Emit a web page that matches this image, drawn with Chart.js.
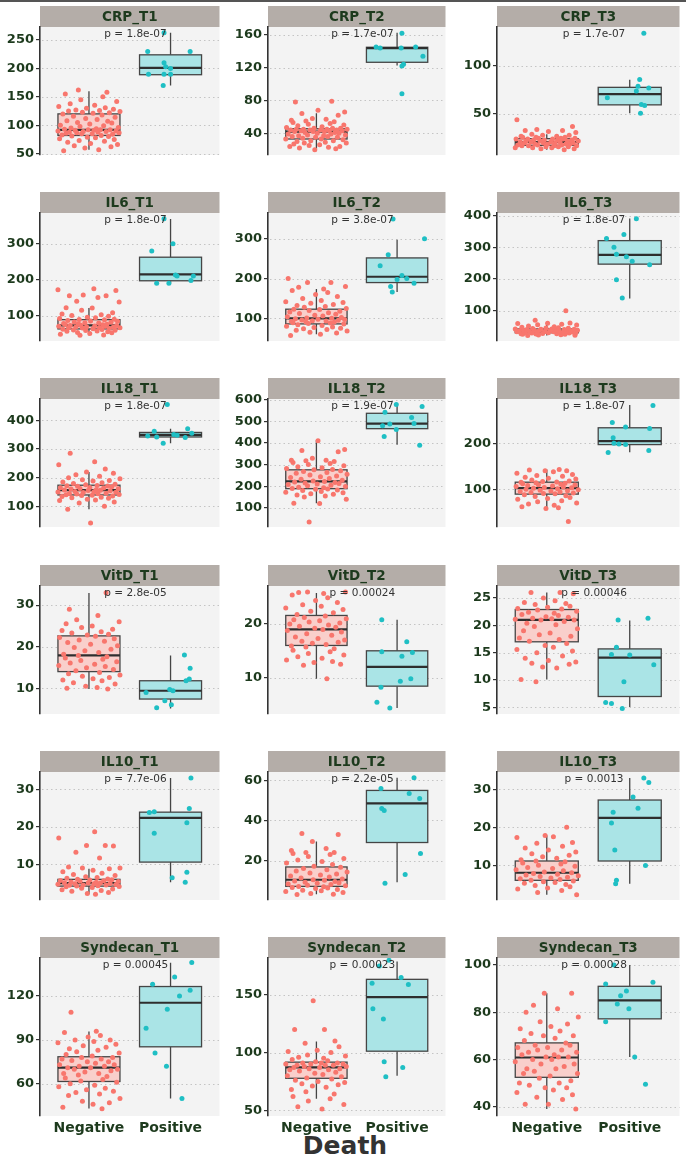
<!DOCTYPE html>
<html>
<head>
<meta charset="utf-8">
<script src="https://cdn.jsdelivr.net/npm/chart.js@4.4.0/dist/chart.umd.min.js"></script>
<style>
  body { margin: 0; background: #fff; width: 686px; height: 1155px; position: relative; overflow: hidden; }
  #topline { position: absolute; left: 0; top: 0; width: 686px; height: 2px; background: #555; }
  canvas { position: absolute; }
  #death { position: absolute; left: 0; width: 690px; top: 1131px; line-height: 25px; text-align: center;
           font: bold 25px "DejaVu Sans"; color: #333; }
</style>
</head>
<body>
<div id="topline"></div>
<div id="death">Death</div>
<script>
// ---- data ----
const categories = ['Negative', 'Positive']
const panelNames = ['CRP_T1', 'CRP_T2', 'CRP_T3', 'IL6_T1', 'IL6_T2', 'IL6_T3',
  'IL18_T1', 'IL18_T2', 'IL18_T3', 'VitD_T1', 'VitD_T2', 'VitD_T3',
  'IL10_T1', 'IL10_T2', 'IL10_T3', 'Syndecan_T1', 'Syndecan_T2', 'Syndecan_T3']
const pLabels = ['p = 1.8e-07', 'p = 1.7e-07', 'p = 1.7e-07', 'p = 1.8e-07', 'p = 3.8e-07', 'p = 1.8e-07',
  'p = 1.8e-07', 'p = 1.9e-07', 'p = 1.8e-07', 'p = 2.8e-05', 'p = 0.00024', 'p = 0.00046',
  'p = 7.7e-06', 'p = 2.2e-05', 'p = 0.0013', 'p = 0.00045', 'p = 0.00023', 'p = 0.00028']
const yMin = [47.6, 13.5, 7.5, 29, 43, 5, 28, 12, 18, 3.8, 3.2, 3.8, 0.5, 0.3, 0.8, 38, 45, 36]
const yMax = [273, 169.5, 140.5, 386, 365, 408, 474, 603, 296, 34.6, 27.1, 27.2, 34.6, 64.2, 34.6, 146, 182, 103]
const yTicks = [[50, 100, 150, 200, 250], [40, 80, 120, 160], [50, 100], [100, 200, 300], [100, 200, 300],
  [100, 200, 300, 400], [100, 200, 300, 400], [100, 200, 300, 400, 500, 600], [100, 200],
  [10, 20, 30], [10, 20], [5, 10, 15, 20, 25], [10, 20, 30], [20, 40, 60], [10, 20, 30],
  [60, 90, 120], [50, 100, 150], [40, 60, 80, 100]]

// box stats: [lower whisker, q1, median, q3, upper whisker]
const negBox = [[57, 82, 92, 120, 160], [21, 33, 42, 45.5, 64.5], [13, 17.5, 21, 24.5, 29],
  [45, 62.7, 72.7, 88.6, 121], [60, 86, 100, 123, 174], [22, 31, 37, 43, 61],
  [90, 139.6, 156.6, 173.6, 220], [122, 189, 222.6, 276, 412], [58, 89.4, 102.3, 115.3, 143],
  [9.8, 14, 17.9, 22.6, 32.9], [9.8, 16, 19, 21.6, 25.8], [10.1, 17, 21, 22.9, 26],
  [2, 4.2, 5, 6, 8.8], [3.2, 7.1, 10.4, 16.8, 29.5], [2.2, 6, 8, 11.1, 17.8],
  [43.1, 61.6, 71.1, 78.5, 95.7], [60, 77.7, 87.2, 91.7, 109.5], [39, 52.4, 60.8, 67, 88]]
const posBox = [[170, 189, 201, 224, 263], [122.6, 126.5, 143.8, 144.8, 162.4], [51, 59.6, 70.8, 77.8, 85.7],
  [190, 197, 215, 262.7, 369.6], [166, 190, 204.6, 252, 298], [139, 247, 276, 321, 391],
  [320, 341.7, 349, 357.5, 370], [392, 466, 489, 537, 575], [180.6, 197, 204.6, 233.5, 282.9],
  [5.1, 7.4, 9.4, 11.8, 17.9], [4.3, 8.4, 12, 15, 20.8], [5.1, 7, 14.1, 15.7, 20.9],
  [5.2, 10.6, 22.4, 23.9, 33], [9.2, 29, 48.5, 55, 61.3], [5.1, 11.1, 22.5, 27.2, 33],
  [50, 85.3, 115.4, 126.5, 142.7], [79.8, 101.2, 148, 163.5, 179], [61, 77.2, 85, 91, 100]]

// horizontal jitter offsets for the Negative points
const negJitter = [-0.31, 0.12, -0.05, 0.27, -0.18, 0.35, 0.02, -0.26, 0.19, -0.12, 0.31, -0.36, 0.08, -0.02,
  0.24, -0.21, 0.15, -0.33, 0.29, -0.09, 0.04, -0.28, 0.37, -0.15, 0.11, -0.24, 0.21, -0.07, 0.33, -0.38,
  0.06, -0.17, 0.26, -0.01, 0.14, -0.30, 0.09, -0.22, 0.36, -0.11, 0.18, -0.35, 0.01, 0.28, -0.14, 0.23,
  -0.27, 0.10, -0.04, 0.32, -0.19, 0.16, -0.32, 0.05, 0.25, -0.08, 0.38, -0.25, 0.13, -0.16, 0.30, -0.03,
  0.20, -0.37, 0.07, -0.23, 0.34, -0.10, 0.17, -0.29, 0.22, -0.13]

const CRP_T1_neg = [55, 57, 60, 62, 64, 66, 68, 70, 72, 73, 75, 76, 78, 79, 80, 81, 82, 83, 84, 85, 85, 86, 87, 87, 88, 88, 89, 89, 90, 90, 91, 91, 92, 92, 92,
  93, 94, 95, 96, 98, 99, 100, 102, 104, 105, 107, 108, 110, 112, 114, 116, 118, 120, 121, 122, 123, 124, 125, 126, 127, 128, 130, 131, 133, 135, 138, 142, 145, 150, 155, 158, 162]
const CRP_T1_pos = [263, 230, 230, 210, 203, 200, 190, 190, 190, 170]
const CRP_T1_jit = [-0.08, -0.28, 0.24, -0.08, -0.06, 0, -0.27, -0.08, 0, -0.09]

const CRP_T2_neg = [20, 21, 22, 23, 24, 24, 25, 26, 27, 28, 28, 29, 30, 31, 31, 32, 33, 33, 34, 35, 35, 36, 36, 37, 37, 38, 38, 39, 39, 40, 40, 41, 41, 42, 42,
  42, 43, 43, 43, 44, 44, 44, 44, 45, 45, 45, 45, 46, 46, 46, 47, 48, 49, 50, 51, 52, 53, 54, 55, 56, 57, 58, 62, 64, 66, 68, 78, 79]
const CRP_T2_pos = [162, 145, 144, 145, 144, 134, 124, 122, 88]
const CRP_T2_jit = [0.06, -0.26, -0.21, 0.23, 0.05, 0.32, 0.08, 0.06, 0.06]

const CRP_T3_neg = [13, 14, 14, 15, 15, 15, 16, 16, 16, 17, 17, 17, 17, 18, 18, 18, 19, 19, 19, 19, 20, 20, 20, 20, 21, 21, 21,
  21, 22, 22, 22, 22, 23, 23, 23, 23, 24, 24, 24, 24, 25, 25, 25, 26, 26, 26, 27, 27, 28, 28, 29, 31, 32, 33, 33, 34, 37, 44]
const CRP_T3_pos = [134, 86, 79, 77, 74, 67, 60, 59, 51]
const CRP_T3_jit = [0.17, 0.12, 0.10, 0.23, 0.08, -0.27, 0.14, 0.18, 0.13]

const IL6_T1_neg = [45, 46, 48, 50, 52, 53, 55, 56, 57, 58, 59, 60, 61, 62, 63, 64, 65, 66, 66, 67, 68, 68, 69, 70, 70, 71, 72, 72,
  73, 74, 75, 76, 77, 78, 79, 80, 81, 82, 84, 85, 86, 88, 89, 90, 92, 94, 95, 98, 100, 102, 104, 108, 115, 121, 122, 138, 140, 150, 155, 155, 157, 170, 172, 175]
const IL6_T1_pos = [370, 300, 280, 213, 210, 210, 198, 190, 190]
const IL6_T1_jit = [-0.08, 0.03, -0.23, 0.06, 0.08, 0.28, 0.25, -0.17, -0.02]

const IL6_T2_neg = [57, 60, 63, 65, 68, 70, 72, 74, 75, 77, 78, 80, 82, 84, 86, 87, 88, 89, 90, 91, 92, 93, 94, 95, 96, 97, 98, 99, 100,
  101, 102, 104, 106, 108, 110, 112, 114, 116, 118, 120, 122, 123, 125, 128, 130, 132, 135, 138, 140, 142, 145, 150, 155, 160, 165, 170, 174, 178, 180, 190, 190, 200]
const IL6_T2_pos = [350, 300, 260, 232, 208, 200, 198, 188, 180, 166]
const IL6_T2_jit = [-0.05, 0.34, -0.11, -0.21, 0.06, 0.12, 0, 0.21, -0.08, -0.06]

const IL6_T3_neg = [22, 23, 24, 25, 26, 26, 27, 28, 28, 29, 30, 30, 31, 31, 32, 32, 33, 33, 34, 34, 35, 35, 36, 36, 37, 37,
  38, 38, 39, 39, 40, 40, 41, 41, 42, 42, 43, 43, 44, 45, 46, 47, 48, 50, 52, 55, 56, 58, 60, 61, 62, 70, 100]
const IL6_T3_pos = [390, 340, 328, 300, 278, 270, 256, 245, 198, 140]
const IL6_T3_jit = [0.08, -0.07, -0.28, -0.19, -0.16, -0.04, 0.03, 0.24, -0.16, -0.09]

const IL18_T1_neg = [42, 90, 100, 112, 115, 120, 122, 125, 128, 130, 132, 134, 136, 138, 139, 140, 141, 143, 144, 145, 146, 148, 149, 150, 151, 152, 154, 155, 156,
  157, 158, 160, 161, 162, 164, 165, 166, 168, 170, 171, 172, 173, 175, 177, 180, 182, 185, 188, 190, 193, 196, 200, 205, 210, 215, 220, 230, 245, 255, 285]
const IL18_T1_pos = [455, 370, 362, 355, 350, 348, 345, 342, 340, 320]
const IL18_T1_jit = [-0.04, 0.21, -0.2, 0.26, 0.04, 0.08, -0.28, -0.17, 0.18, -0.09]

const IL18_T2_neg = [35, 120, 122, 140, 150, 155, 160, 163, 166, 170, 173, 176, 180, 183, 186, 188, 190, 193, 196, 199, 202, 205, 208, 210, 213, 215, 218, 220, 222,
  224, 228, 232, 236, 240, 244, 248, 252, 256, 260, 264, 268, 272, 276, 278, 282, 285, 290, 295, 300, 305, 310, 315, 318, 320, 320, 330, 360, 365, 370, 410]
const IL18_T2_pos = [578, 568, 542, 518, 490, 488, 480, 462, 430, 390]
const IL18_T2_jit = [-0.01, 0.31, -0.15, 0.18, 0.21, -0.09, -0.18, -0.01, -0.16, 0.28]

const IL18_T3_neg = [30, 58, 60, 62, 65, 68, 70, 73, 75, 78, 80, 82, 84, 86, 88, 90, 91, 92, 93, 94, 95, 96, 97, 98, 99, 100, 101, 102,
  103, 104, 105, 106, 107, 108, 109, 110, 111, 112, 113, 114, 115, 116, 117, 118, 120, 122, 124, 126, 128, 130, 132, 135, 138, 140, 140, 142, 143]
const IL18_T3_pos = [282, 245, 235, 232, 212, 200, 198, 197, 184, 180]
const IL18_T3_jit = [0.28, -0.21, -0.05, 0.24, -0.2, -0.19, -0.13, -0.05, 0.23, -0.26]

const VitD_T1_neg = [9.8, 10, 10.2, 10.5, 11, 11.3, 11.8, 12, 12.3, 12.6, 12.9, 13.2, 13.5, 13.8, 14.2, 14.5, 14.9, 15.2, 15.5, 15.8, 16.1, 16.4, 16.7, 17, 17.3, 17.6, 17.9,
  18.2, 18.6, 19, 19.4, 19.8, 20.2, 20.6, 21, 21.3, 21.6, 21.9, 22.2, 22.5, 22.8, 23, 23.3, 23.6, 23.9, 24.2, 24.6, 25, 25.5, 26, 26.5, 27.5, 29, 33]
const VitD_T1_pos = [18, 14.8, 12.2, 11.8, 9.7, 9.4, 9, 7, 6, 5.3]
const VitD_T1_jit = [0.17, 0.24, 0.23, 0.19, -0.01, 0.03, -0.3, -0.07, 0.01, -0.17]

const VitD_T2_neg = [9.8, 12.3, 12.5, 12.8, 13, 13.3, 13.6, 13.9, 14.2, 14.5, 14.8, 15.1, 15.4, 15.7, 15.9, 16.2, 16.4, 16.6, 16.8, 17, 17.3, 17.6, 17.9, 18.2, 18.5, 18.8, 19,
  19.2, 19.4, 19.6, 19.8, 20, 20.2, 20.4, 20.6, 20.8, 21, 21.2, 21.5, 21.8, 22.1, 22.4, 22.7, 23, 23.3, 23.6, 24, 24.4, 24.9, 25.4, 25.7, 25.9, 26, 26]
const VitD_T2_pos = [20.8, 16.7, 14.8, 14.7, 14, 9.8, 9.3, 8.2, 5.4, 4.3]
const VitD_T2_jit = [-0.19, 0.12, -0.19, 0.19, 0.06, 0.17, 0.04, -0.2, -0.25, -0.09]

const VitD_T3_neg = [9.7, 10.1, 12.2, 12.4, 12.9, 13.1, 13.3, 13.6, 14, 14.4, 15, 15.3, 15.6, 16, 16.3, 16.7, 17.1, 17.4, 17.7, 18, 18.3, 18.6, 19, 19.4, 19.8, 20.1, 20.4, 20.7, 21,
  21, 21.1, 21.2, 21.3, 21.5, 21.6, 21.8, 22, 22.2, 22.4, 22.6, 22.8, 23, 23.1, 23.3, 23.5, 23.8, 24, 24.2, 24.5, 25, 25.8, 26, 26]
const VitD_T3_pos = [21.3, 21, 16, 14.7, 14.6, 12.8, 9.7, 5.9, 5.7, 4.8]
const VitD_T3_jit = [0.22, -0.14, -0.16, -0.22, 0, 0.29, -0.07, -0.29, -0.22, -0.09]

const IL10_T1_neg = [2, 2.2, 2.5, 2.8, 3, 3.2, 3.4, 3.6, 3.8, 4, 4.1, 4.2, 4.3, 4.4, 4.5, 4.5, 4.6, 4.7, 4.8, 4.8, 4.9, 5,
  5, 5.1, 5.2, 5.3, 5.4, 5.5, 5.6, 5.7, 5.8, 5.9, 6, 6.1, 6.3, 6.5, 6.7, 7, 7.3, 7.6, 8, 8.4, 8.8, 9, 9, 9.3, 11.7, 13.2, 14.9, 15, 15, 17, 18.7]
const IL10_T1_pos = [33, 24.9, 24, 23.8, 21.1, 18.3, 7.9, 6.4, 5.2]
const IL10_T1_jit = [0.25, 0.23, -0.2, -0.26, 0.2, -0.2, 0.2, 0.02, 0.18]

const IL10_T2_neg = [3, 3.2, 3.6, 4, 4.5, 4.9, 5.2, 5.6, 6, 6.3, 6.6, 6.9, 7.1, 7.4, 7.7, 8, 8.3, 8.6, 8.9, 9.2, 9.5, 9.8, 10.1, 10.4,
  10.8, 11.3, 11.8, 12.3, 12.8, 13.3, 13.8, 14.3, 14.8, 15.4, 16, 16.6, 17.2, 18, 18.8, 19.5, 20.3, 21, 22, 23, 23.5, 24, 24, 25, 26, 29.5, 33, 33.5]
const IL10_T2_pos = [61.3, 56, 53.5, 51, 46, 45, 23.5, 13, 8.7]
const IL10_T2_jit = [0.21, -0.2, 0.15, 0.28, -0.19, -0.16, 0.29, 0.1, -0.15]

const IL10_T3_neg = [2.2, 2.8, 3.3, 3.7, 4, 4.3, 4.6, 4.9, 5.2, 5.4, 5.6, 5.8, 6, 6.2, 6.4, 6.6, 6.8, 7, 7.2, 7.4, 7.6, 7.8, 8,
  8.2, 8.5, 8.8, 9.1, 9.4, 9.7, 10, 10.3, 10.6, 10.9, 11.1, 11.4, 11.8, 12.2, 12.6, 13, 13.5, 14, 14.5, 15, 15.8, 16, 17.3, 17.5, 17.8, 20]
const IL10_T3_pos = [33, 31.8, 28, 25, 24, 21.1, 14, 9.9, 6, 5.1]
const IL10_T3_jit = [0.17, 0.23, 0.04, 0.1, -0.2, -0.22, -0.18, 0.19, -0.16, -0.17]

const Syndecan_T1_neg = [43, 44, 46, 47, 48, 50, 52, 53, 54, 55, 56, 57, 58, 59, 60, 61, 62, 63, 64, 65, 66, 67, 67, 68, 69, 70, 70, 71,
  71, 72, 72, 73, 73, 74, 75, 75, 76, 77, 77, 78, 78, 79, 80, 81, 82, 83, 84, 85, 86, 87, 88, 89, 90, 90, 92, 93, 95, 96, 109]
const Syndecan_T1_pos = [143, 133, 128, 124, 120, 111, 98, 81, 72, 50]
const Syndecan_T1_jit = [0.26, 0.05, -0.22, 0.24, 0.11, -0.04, -0.3, -0.19, -0.05, 0.14]

const Syndecan_T2_neg = [51, 53, 55, 58, 60, 62, 64, 66, 68, 70, 71, 72, 73, 74, 75, 76, 77, 78, 79, 80, 81, 82, 83, 84, 85, 85, 86, 86, 87,
  87, 88, 88, 89, 89, 89, 90, 90, 90, 91, 91, 91, 92, 93, 94, 95, 96, 97, 98, 100, 101, 102, 105, 108, 110, 120, 120, 145]
const Syndecan_T2_pos = [180, 175, 165, 160, 159, 138, 129, 92, 87, 79]
const Syndecan_T2_jit = [-0.1, -0.22, 0.05, -0.31, 0.14, -0.3, -0.17, -0.16, 0.07, -0.14]

const Syndecan_T3_neg = [39, 41, 41, 43, 44, 45, 46, 47, 48, 48, 49, 50, 50, 51, 52, 53, 54, 54, 55, 56, 56, 57, 58, 58, 59, 60, 60, 61,
  61, 61, 62, 62, 63, 63, 64, 64, 65, 65, 66, 66, 67, 68, 69, 70, 70, 71, 72, 73, 74, 75, 76, 78, 80, 81.5, 83, 88, 88]
const Syndecan_T3_pos = [100, 92.7, 92, 89, 87, 83.5, 81.5, 76, 61, 49.5]
const Syndecan_T3_jit = [-0.19, 0.28, -0.29, -0.04, -0.11, -0.15, -0.01, -0.29, 0.06, 0.19]

const negSets = [CRP_T1_neg, CRP_T2_neg, CRP_T3_neg, IL6_T1_neg, IL6_T2_neg, IL6_T3_neg, IL18_T1_neg, IL18_T2_neg, IL18_T3_neg,
  VitD_T1_neg, VitD_T2_neg, VitD_T3_neg, IL10_T1_neg, IL10_T2_neg, IL10_T3_neg, Syndecan_T1_neg, Syndecan_T2_neg, Syndecan_T3_neg]
const posSets = [CRP_T1_pos, CRP_T2_pos, CRP_T3_pos, IL6_T1_pos, IL6_T2_pos, IL6_T3_pos, IL18_T1_pos, IL18_T2_pos, IL18_T3_pos,
  VitD_T1_pos, VitD_T2_pos, VitD_T3_pos, IL10_T1_pos, IL10_T2_pos, IL10_T3_pos, Syndecan_T1_pos, Syndecan_T2_pos, Syndecan_T3_pos]
const posJits = [CRP_T1_jit, CRP_T2_jit, CRP_T3_jit, IL6_T1_jit, IL6_T2_jit, IL6_T3_jit, IL18_T1_jit, IL18_T2_jit, IL18_T3_jit,
  VitD_T1_jit, VitD_T2_jit, VitD_T3_jit, IL10_T1_jit, IL10_T2_jit, IL10_T3_jit, Syndecan_T1_jit, Syndecan_T2_jit, Syndecan_T3_jit]

// ---- layout ----
const cols = [{ left: 0, w: 222 }, { left: 228, w: 220 }, { left: 457, w: 225 }]
const rowTop = [6, 192, 378, 565, 751, 937]
const STRIP = 21
const PLOT_H = 158
const XAXIS_H = 30
const BOX_HALF = 0.38
const P_X = 1.57
const GREEN = '#1d3a1d'

const panelDeco = {
  id: 'panelDeco',
  beforeDraw(chart, args, o) {
    const { ctx, chartArea: a } = chart
    ctx.save()
    ctx.fillStyle = '#f3f3f3'
    ctx.fillRect(a.left, a.top, a.right - a.left, a.bottom - a.top)
    ctx.fillStyle = '#b4ada8'
    ctx.fillRect(a.left, a.top - STRIP, a.right - a.left, STRIP)
    ctx.fillStyle = GREEN
    ctx.font = 'bold 13.5px "DejaVu Sans"'
    ctx.textAlign = 'center'
    ctx.textBaseline = 'middle'
    ctx.fillText(panelNames[o.idx], (a.left + a.right) / 2, a.top - STRIP / 2 + 1)
    ctx.restore()
  },
  beforeDatasetsDraw(chart, args, o) {
    const { ctx, chartArea: a, scales: { x, y } } = chart
    const i = o.idx
    ctx.save()
    // dotted grid
    ctx.strokeStyle = '#c4c4c4'
    ctx.lineWidth = 1
    ctx.setLineDash([1.5, 3])
    yTicks[i].forEach(t => {
      const py = Math.round(y.getPixelForValue(t)) + 0.5
      ctx.beginPath()
      ctx.moveTo(a.left + 2, py)
      ctx.lineTo(a.right, py)
      ctx.stroke()
    })
    ctx.setLineDash([])
    // boxes
    const groups = [[1, negBox[i], '#f9cfcb'], [2, posBox[i], '#aae4e6']]
    groups.forEach(([cx, b, fill]) => {
      const xl = x.getPixelForValue(cx - BOX_HALF)
      const xr = x.getPixelForValue(cx + BOX_HALF)
      const xc = x.getPixelForValue(cx)
      const [lo, q1, md, q3, hi] = b.map(v => y.getPixelForValue(v))
      ctx.strokeStyle = '#454545'
      ctx.lineWidth = 1.3
      ctx.beginPath()
      ctx.moveTo(xc, q3); ctx.lineTo(xc, hi)
      ctx.moveTo(xc, q1); ctx.lineTo(xc, lo)
      ctx.stroke()
      ctx.fillStyle = fill
      ctx.fillRect(xl, q3, xr - xl, q1 - q3)
      ctx.strokeRect(xl, q3, xr - xl, q1 - q3)
      ctx.strokeStyle = '#2e2e2e'
      ctx.lineWidth = 2.2
      ctx.beginPath()
      ctx.moveTo(xl, md); ctx.lineTo(xr, md)
      ctx.stroke()
    })
    ctx.restore()
  },
  afterDatasetsDraw(chart, args, o) {
    const { ctx, chartArea: a, scales: { x } } = chart
    ctx.save()
    ctx.fillStyle = '#333'
    ctx.font = '10.5px "DejaVu Sans"'
    ctx.textAlign = 'center'
    ctx.textBaseline = 'middle'
    ctx.fillText(pLabels[o.idx], x.getPixelForValue(P_X), a.top + 7)
    ctx.restore()
  }
}

panelNames.forEach((name, i) => {
  const r = Math.floor(i / 3)
  const c = i % 3
  const bottom = r === 5
  const cv = document.createElement('canvas')
  cv.width = cols[c].w
  cv.height = STRIP + PLOT_H + (bottom ? XAXIS_H : 12)
  cv.style.left = cols[c].left + 'px'
  cv.style.top = rowTop[r] + 'px'
  document.body.appendChild(cv)

  const neg = negSets[i].map((v, k) => ({ x: 1 + negJitter[(k + i * 13) % negJitter.length], y: v }))
  const pos = posSets[i].map((v, k) => ({ x: 2 + posJits[i][k], y: v }))

  new Chart(cv, {
    type: 'scatter',
    data: {
      datasets: [
        { label: categories[0], data: neg, backgroundColor: '#f8766d', borderWidth: 0, pointRadius: 2.5, pointHoverRadius: 0 },
        { label: categories[1], data: pos, backgroundColor: '#1fbfc4', borderWidth: 0, pointRadius: 2.5, pointHoverRadius: 0 }
      ]
    },
    options: {
      responsive: false,
      animation: false,
      devicePixelRatio: 1,
      events: [],
      layout: { padding: { top: STRIP, bottom: bottom ? 0 : 12, left: 0, right: 0 } },
      plugins: { legend: { display: false }, tooltip: { enabled: false }, panelDeco: { idx: i } },
      scales: {
        x: {
          type: 'linear',
          min: 0.4,
          max: 2.6,
          display: bottom,
          afterBuildTicks: s => { s.ticks = [{ value: 1 }, { value: 2 }] },
          afterFit: s => { s.height = XAXIS_H },
          grid: { display: false, drawTicks: false },
          border: { display: false },
          ticks: {
            padding: 4,
            color: GREEN,
            font: { family: 'DejaVu Sans', weight: 'bold', size: 14 },
            callback: (v, k) => categories[k]
          }
        },
        y: {
          min: yMin[i],
          max: yMax[i],
          afterBuildTicks: s => { s.ticks = yTicks[i].map(v => ({ value: v })) },
          afterFit: s => { s.width = 40 },
          grid: { drawOnChartArea: false, drawTicks: true, tickLength: 4, color: '#333', lineWidth: 1.2 },
          border: { display: true, color: '#333', width: 1.6 },
          ticks: {
            padding: 2,
            color: GREEN,
            font: { family: 'DejaVu Sans', weight: 'bold', size: 13 }
          }
        }
      }
    },
    plugins: [panelDeco]
  })
})
</script>
</body>
</html>
